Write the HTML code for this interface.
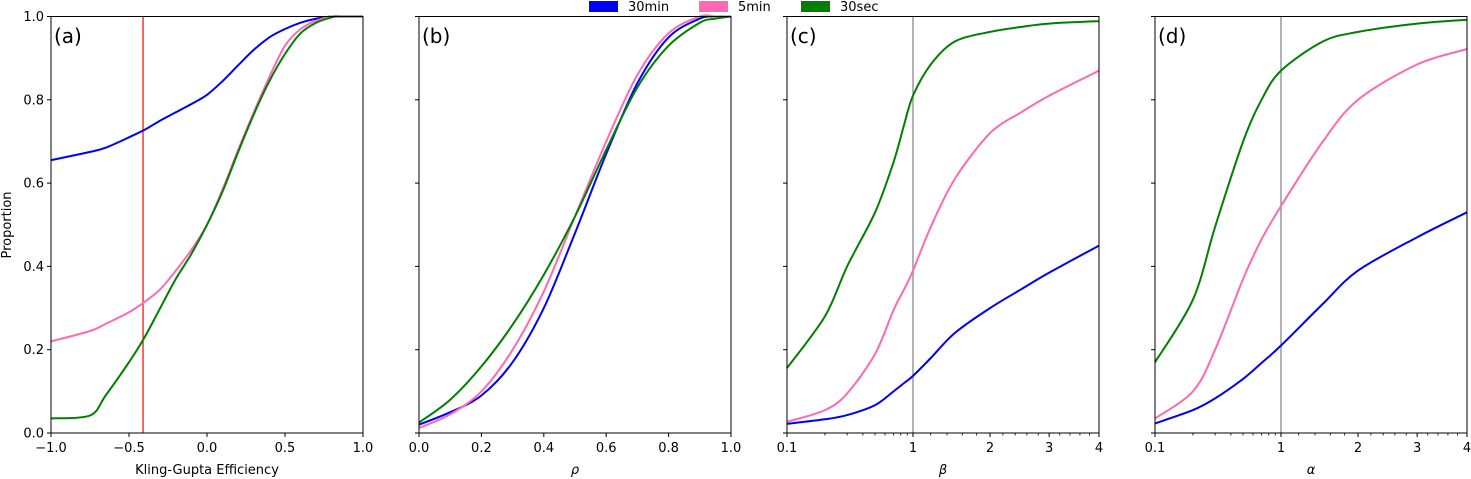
<!DOCTYPE html>
<html><head><meta charset="utf-8">
<style>
html,body{margin:0;padding:0;background:#fff;}
svg{display:block;font-family:"DejaVu Sans","Liberation Sans",sans-serif;}
</style></head>
<body>
<svg id="chart" width="1471" height="479" viewBox="0 0 1471 479" xmlns="http://www.w3.org/2000/svg">
  <g>
    <rect x="589" y="1" width="29" height="11" fill="#0000ff"/>
    <text x="628" y="11" font-size="13">30min</text>
    <rect x="699" y="1" width="29" height="11" fill="#ff69b4"/>
    <text x="738" y="11" font-size="13">5min</text>
    <rect x="801" y="1" width="29" height="11" fill="#008000"/>
    <text x="840" y="11" font-size="13">30sec</text>
  </g>
  <text x="11" y="225" font-size="13" text-anchor="middle" transform="rotate(-90 11 225)">Proportion</text>
</svg>
<script>
// ---- data ----
const kgeX = [-1,-0.75,-0.65,-0.5,-0.4,-0.3,-0.2,-0.1,0,0.1,0.2,0.3,0.4,0.5,0.6,0.7,0.8,0.85,1.0];
const kge30min = [0.655,0.675,0.685,0.71,0.728,0.75,0.77,0.79,0.812,0.845,0.883,0.92,0.95,0.97,0.985,0.995,1.0,1.0,1.0];
const kge5min = [0.22,0.245,0.262,0.29,0.315,0.345,0.39,0.44,0.5,0.585,0.68,0.77,0.855,0.93,0.97,0.99,1.0,1.0,1.0];
const kge30sec = [0.035,0.042,0.09,0.17,0.23,0.3,0.37,0.43,0.5,0.58,0.675,0.765,0.845,0.91,0.96,0.985,0.998,1.0,1.0];

const rhoX = [0,0.1,0.2,0.3,0.4,0.5,0.6,0.7,0.8,0.9,0.95,1.0];
const rho30min = [0.02,0.05,0.09,0.17,0.3,0.48,0.67,0.84,0.95,0.995,1.0,1.0];
const rho5min = [0.012,0.045,0.1,0.2,0.34,0.52,0.7,0.86,0.96,1.0,1.0,1.0];
const rho30sec = [0.025,0.08,0.16,0.26,0.38,0.52,0.68,0.83,0.93,0.985,0.995,1.0];

const betaX = [0.1,0.2,0.3,0.5,0.7,0.85,1,1.2,1.5,2,2.5,3,4];
const beta30min = [0.022,0.033,0.043,0.067,0.10,0.12,0.137,0.18,0.24,0.30,0.345,0.385,0.45];
const beta5min = [0.027,0.055,0.095,0.19,0.295,0.345,0.39,0.495,0.61,0.72,0.77,0.81,0.87];
const beta30sec = [0.156,0.28,0.4,0.53,0.65,0.74,0.81,0.885,0.94,0.963,0.975,0.983,0.989];

const alphaX = [0.1,0.2,0.3,0.5,0.7,1,1.5,2,3,4];
const alpha30min = [0.023,0.055,0.083,0.13,0.168,0.21,0.31,0.39,0.47,0.53];
const alpha5min = [0.035,0.10,0.20,0.37,0.465,0.545,0.70,0.80,0.885,0.922];
const alpha30sec = [0.17,0.32,0.495,0.70,0.80,0.87,0.94,0.963,0.983,0.992];

const yTicks = [0,0.2,0.4,0.6,0.8,1.0];
const yTickLabels = ["0.0","0.2","0.4","0.6","0.8","1.0"];
const kgeTicks = [-1,-0.5,0,0.5,1];
const kgeTickLabels = ["\u22121.0","\u22120.5","0.0","0.5","1.0"];
const rhoTicks = [0,0.2,0.4,0.6,0.8,1.0];
const rhoTickLabels = ["0.0","0.2","0.4","0.6","0.8","1.0"];
const ratioTicks = [0.1,1,2,3,4];
const ratioTickLabels = ["0.1","1","2","3","4"];
const ratioMinor = [0.2,0.3,0.4,0.5,0.6,0.7,0.8,0.9,1.2,1.4,1.6,1.8,2.2,2.4,2.6,2.8,3.2,3.4,3.6,3.8];

// ---- drawing ----
const NS = "http://www.w3.org/2000/svg";
const svg = document.getElementById('chart');
const TOP = 16.5, BOT = 433, W = 312;
const yS = p => BOT - (BOT - TOP) * p;
function mk(tag, attrs, parent) {
  const e = document.createElementNS(NS, tag);
  for (const k in attrs) e.setAttribute(k, attrs[k]);
  (parent || svg).appendChild(e);
  return e;
}
const linScale = (x0, lo, hi) => v => x0 + W * (v - lo) / (hi - lo);
const ratioScale = x0 => v => v <= 1 ? x0 + 126 * (Math.log10(v) + 1) : x0 + 126 + 186 * (Math.sqrt(v) - 1);

function smoothPath(pts) {
  let d = 'M' + pts[0][0].toFixed(1) + ',' + pts[0][1].toFixed(1);
  for (let i = 0; i < pts.length - 1; i++) {
    const p0 = pts[Math.max(0, i - 1)], p1 = pts[i], p2 = pts[i + 1], p3 = pts[Math.min(pts.length - 1, i + 2)];
    const t = 0.16;
    const c1x = p1[0] + (p2[0] - p0[0]) * t, c1y = p1[1] + (p2[1] - p0[1]) * t;
    const c2x = p2[0] - (p3[0] - p1[0]) * t, c2y = p2[1] - (p3[1] - p1[1]) * t;
    d += ' C' + c1x.toFixed(1) + ',' + c1y.toFixed(1) + ' ' + c2x.toFixed(1) + ',' + c2y.toFixed(1) + ' ' + p2[0].toFixed(1) + ',' + p2[1].toFixed(1);
  }
  return d;
}

const panels = [
  {key:'a', x0:51, sc:linScale(51,-1,1), X:kgeX, s:[kge30min,kge5min,kge30sec], ticks:kgeTicks, tl:kgeTickLabels, minor:[], title:'Kling-Gupta Efficiency', italic:false, vline:-0.41, vcol:'#ff0000', ylab:true},
  {key:'b', x0:419, sc:linScale(419,0,1), X:rhoX, s:[rho30min,rho5min,rho30sec], ticks:rhoTicks, tl:rhoTickLabels, minor:[], title:'\u03c1', italic:true, vline:null, ylab:false},
  {key:'c', x0:787, sc:ratioScale(787), X:betaX, s:[beta30min,beta5min,beta30sec], ticks:ratioTicks, tl:ratioTickLabels, minor:ratioMinor, title:'\u03b2', italic:true, vline:1, vcol:'#808080', ylab:false},
  {key:'d', x0:1155, sc:ratioScale(1155), X:alphaX, s:[alpha30min,alpha5min,alpha30sec], ticks:ratioTicks, tl:ratioTickLabels, minor:ratioMinor, title:'\u03b1', italic:true, vline:1, vcol:'#808080', ylab:false}
];
const colors = ['#0000ff','#ff69b4','#008000'];
const sNames = ['30min','5min','30sec'];

panels.forEach(p => {
  const g = mk('g', {});
  
  
  if (p.vline !== null) {
    const vx = p.sc(p.vline);
    const l = mk('line', {x1:vx, x2:vx, y1:TOP, y2:BOT, stroke:p.vcol, 'stroke-width':1.2}, g);
    
    
  }
  p.s.forEach((arr, i) => {
    const pts = p.X.map((x, j) => [p.sc(x), yS(arr[j])]);
    const path = mk('path', {d:smoothPath(pts), fill:'none', stroke:colors[i], 'stroke-width':2, 'stroke-linejoin':'round'}, g);
    
    
  });
  const fr = mk('rect', {x:p.x0, y:TOP, width:W, height:BOT-TOP, fill:'none', stroke:'#000', 'stroke-width':1}, g);
  
  
  yTicks.forEach((t, i) => {
    const y = yS(t);
    mk('line', {x1:p.x0-4, x2:p.x0, y1:y, y2:y, stroke:'#000', 'stroke-width':1}, g);
    if (p.ylab) {
      const tx = mk('text', {x:p.x0-7, y:y+4.5, 'font-size':13, 'text-anchor':'end'}, g);
      
      
      tx.textContent = yTickLabels[i];
    }
  });
  p.ticks.forEach((t, i) => {
    const x = p.sc(t);
    mk('line', {x1:x, x2:x, y1:BOT, y2:BOT+4, stroke:'#000', 'stroke-width':1}, g);
    const tx = mk('text', {x:x, y:BOT+19, 'font-size':13, 'text-anchor':'middle'}, g);
    
    
    tx.textContent = p.tl[i];
  });
  p.minor.forEach(t => {
    const x = p.sc(t);
    mk('line', {x1:x, x2:x, y1:BOT, y2:BOT+2.5, stroke:'#000', 'stroke-width':0.8}, g);
  });
  const xt = mk('text', {x:p.x0+W/2, y:474, 'font-size':13, 'text-anchor':'middle', 'font-style':p.italic?'italic':'normal'}, g);
  
  
  xt.textContent = p.title;
  const pl = mk('text', {x:p.x0+3, y:43, 'font-size':20}, g);
  
  
  pl.textContent = '(' + p.key + ')';
});
</script>
</body></html>
